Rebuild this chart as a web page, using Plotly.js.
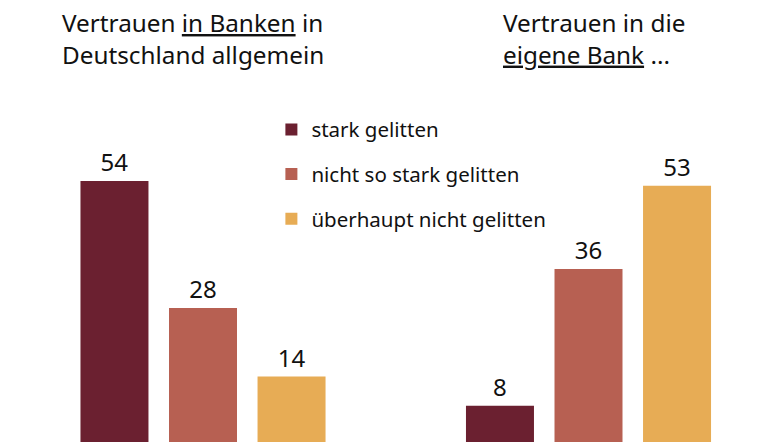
<!DOCTYPE html>
<html>
<head>
<meta charset="utf-8">
<script src="https://cdn.plot.ly/plotly-3.0.1.min.js"></script>
<style>html,body{margin:0;padding:0;background:#fff;}#chart{width:771px;height:442px;}</style>
</head>
<body>
<div id="chart"></div>
<script>
// Data
const groups = ["Vertrauen in Banken in Deutschland allgemein", "Vertrauen in die eigene Bank"];
const seriesNames = ["stark gelitten", "nicht so stark gelitten", "überhaupt nicht gelitten"];
const starkGelitten = [54, 8];
const nichtSoStarkGelitten = [28, 36];
const ueberhauptNichtGelitten = [14, 53];
const groupTitles = ["Vertrauen <u>in Banken</u> in<br>Deutschland allgemein", "Vertrauen in die<br><u>eigene Bank</u> ..."];

const colors = ["#6b2030", "#b76052", "#e7ac55"];
const FONT = "Noto Sans, sans-serif";
const seriesValues = [starkGelitten, nichtSoStarkGelitten, ueberhauptNichtGelitten];

const traces = seriesValues.map((vals, i) => ({
  type: "bar",
  name: seriesNames[i],
  x: groups,
  y: vals,
  marker: {color: colors[i]},
  text: vals.map(String),
  textposition: "outside",
  textfont: {family: FONT, size: 24, color: "#111"},
  cliponaxis: false,
  legendgroup: "g" + i,
  hoverinfo: "skip"
}));

const layout = {
  width: 771, height: 442,
  margin: {l: 0, r: 0, t: 0, b: 0},
  paper_bgcolor: "#fff", plot_bgcolor: "#fff",
  barmode: "group",
  bargap: 0.311,
  bargroupgap: 0.232,
  showlegend: true,
  legend: {
    x: 0.352, y: 0.752, xanchor: "left", yanchor: "top",
    font: {family: FONT, size: 20.5, color: "#111"},
    bgcolor: "rgba(0,0,0,0)",
    traceorder: "grouped",
    tracegroupgap: 15,
    itemclick: false, itemdoubleclick: false
  },
  xaxis: {
    type: "category",
    range: [-0.5266, 1.4734],
    showticklabels: false, showgrid: false, zeroline: false, showline: false, ticks: ""
  },
  yaxis: {
    range: [0.61, 91.0],
    showticklabels: false, showgrid: false, zeroline: false, showline: false, ticks: ""
  },
  annotations: groupTitles.map((t, i) => ({
    text: t,
    xref: "paper", yref: "paper",
    x: i === 0 ? 59.5 / 771 : 500.5 / 771,
    y: 1 - 4.5 / 442,
    xanchor: "left", yanchor: "top", align: "left",
    showarrow: false,
    font: {family: FONT, size: 24.3, color: "#111"}
  }))
};

Plotly.newPlot("chart", traces, layout, {displayModeBar: false, staticPlot: true});
</script>
</body>
</html>
